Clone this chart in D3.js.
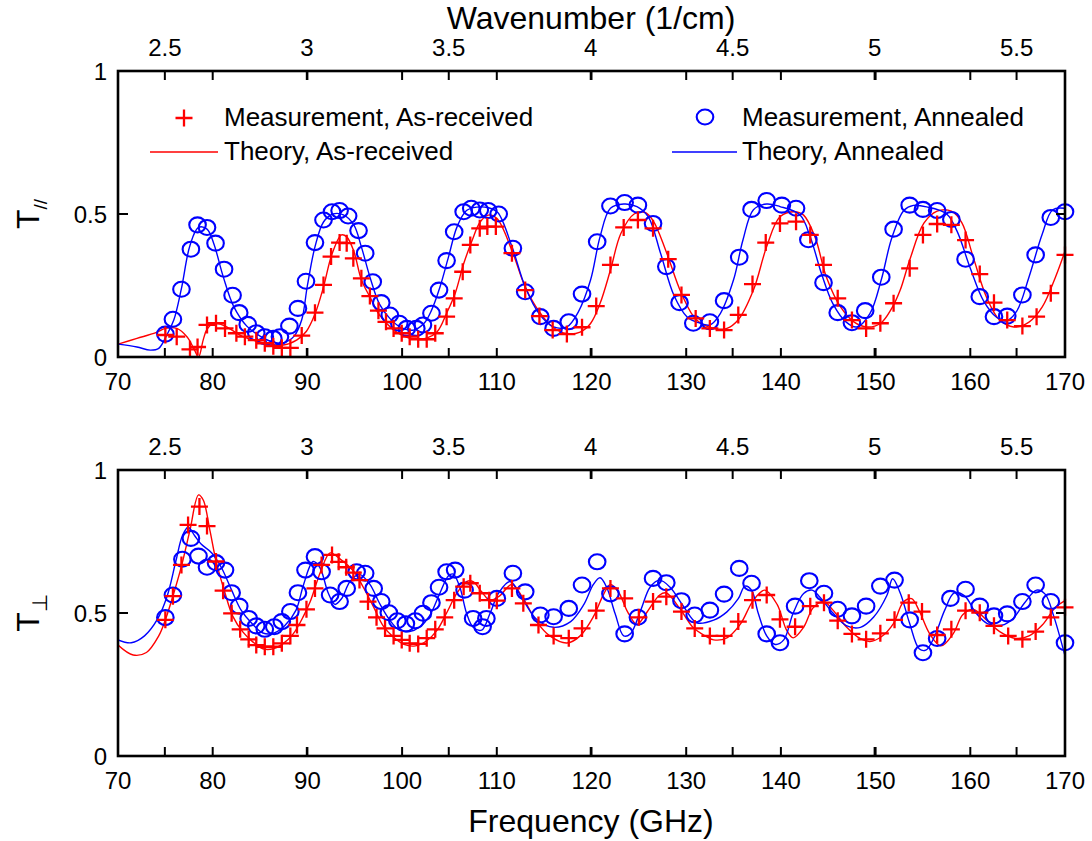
<!DOCTYPE html>
<html>
<head>
<meta charset="utf-8">
<script src="https://cdn.jsdelivr.net/npm/d3@7"></script>
<style>
  body { margin: 0; background: #fff; }
  svg text { font-family: "Liberation Sans", Arial, Helvetica, sans-serif; fill: #000; }
</style>
</head>
<body>
<svg id="chart" width="1092" height="841"></svg>
<script>
// ---- axis definitions ----
const freqDomain = [70, 170];
const freqTicks = [70, 80, 90, 100, 110, 120, 130, 140, 150, 160, 170];
const waveTicks = [2.5, 3, 3.5, 4, 4.5, 5, 5.5];
const yTicks = [0, 0.5, 1];
const GHZ_PER_INV_CM = 29.9792458;

// ---- parallel polarisation (T//) ----
const measParAsReceived = [
  [75.0,0.077],[76.2,0.071],[77.6,0.027],[78.4,0.035],[79.4,0.112],[80.35,0.118],[81.3,0.10],
  [82.5,0.083],[83.4,0.071],[84.6,0.059],[85.5,0.048],[86.4,0.038],[87.3,0.032],[88.2,0.032],
  [89.4,0.075],[90.8,0.155],[91.7,0.252],[92.5,0.351],[93.4,0.40],[94.15,0.398],[94.85,0.345],
  [95.7,0.275],[96.6,0.213],[97.5,0.162],[98.3,0.123],[99.1,0.10],[99.96,0.083],[100.8,0.071],
  [101.7,0.062],[102.6,0.062],[103.5,0.083],[104.7,0.141],[105.5,0.205],[106.4,0.298],
  [107.2,0.392],[108.2,0.45],[109.0,0.456],[109.9,0.456],[111.6,0.363],[113.0,0.234],
  [114.5,0.143],[115.9,0.094],[117.4,0.08],[119.0,0.104],[120.5,0.178],[122.0,0.322],
  [123.4,0.453],[124.9,0.479],[126.5,0.45],[128.1,0.342],[129.5,0.217],[131.0,0.135],
  [132.5,0.10],[134.0,0.094],[135.5,0.147],[137.0,0.255],[138.4,0.40],[139.9,0.467],
  [141.6,0.473],[143.1,0.427],[144.5,0.322],[146.0,0.205],[147.5,0.129],[149.0,0.10],
  [150.5,0.118],[151.9,0.188],[153.6,0.31],[155.0,0.427],[156.5,0.465],[158.0,0.462],
  [159.5,0.409],[161.0,0.29],[162.5,0.19],[163.9,0.129],[165.5,0.108],[167.0,0.141],
  [168.5,0.223],[170.0,0.357]
];
const measParAnnealed = [
  [75.0,0.08],[75.8,0.132],[76.7,0.237],[77.7,0.377],[78.4,0.462],[79.4,0.453],[80.3,0.398],
  [81.2,0.307],[82.1,0.216],[82.8,0.155],[83.7,0.114],[84.6,0.085],[85.5,0.071],[86.4,0.065],
  [87.1,0.071],[88.1,0.108],[89.0,0.170],[89.85,0.265],[90.8,0.40],[91.7,0.479],[92.6,0.508],
  [93.4,0.512],[94.3,0.493],[95.4,0.442],[96.1,0.363],[96.9,0.263],[97.8,0.19],[98.7,0.147],
  [99.7,0.118],[100.5,0.10],[101.5,0.10],[102.2,0.112],[103.1,0.153],[103.9,0.234],
  [104.7,0.337],[105.5,0.438],[106.5,0.508],[107.3,0.52],[108.2,0.514],[109.1,0.512],
  [110.2,0.50],[111.7,0.38],[113.0,0.228],[114.6,0.141],[116.0,0.10],[117.6,0.123],
  [119.0,0.22],[120.6,0.403],[122.0,0.528],[123.5,0.54],[124.9,0.531],[126.5,0.467],
  [127.9,0.316],[129.3,0.19],[130.75,0.118],[132.5,0.123],[134.0,0.197],[135.6,0.349],
  [136.9,0.516],[138.5,0.547],[140.1,0.531],[141.6,0.52],[142.9,0.41],[144.5,0.26],
  [146.0,0.155],[147.5,0.12],[148.9,0.162],[150.6,0.279],[151.9,0.447],[153.6,0.531],
  [155.0,0.516],[156.5,0.512],[158.0,0.481],[159.5,0.342],[161.0,0.211],[162.5,0.141],
  [163.9,0.143],[165.5,0.217],[166.9,0.357],[168.5,0.488],[170.0,0.508]
];
const theoryParAsReceived = [
  [70,0.045],[72,0.065],[74,0.085],[75,0.10],[76.2,0.10],[77.3,0.07],[78.0,0.03],[78.5,0.0],
  [79.0,0.06],[79.4,0.097],[80.1,0.118],[81.2,0.11],[83.2,0.071],[85.7,0.048],[87.5,0.042],
  [88.9,0.06],[89.9,0.09],[90.8,0.15],[91.7,0.245],[92.6,0.36],[93.6,0.427],[94.15,0.42],
  [94.9,0.37],[95.7,0.27],[96.6,0.21],[97.6,0.147],[98.9,0.10],[100.1,0.074],[101.3,0.063],
  [102.6,0.066],[103.7,0.088],[104.7,0.153],[105.6,0.222],[106.5,0.326],[107.4,0.408],
  [108.2,0.47],[109.1,0.496],[110.0,0.485],[111.6,0.372],[113.0,0.245],[114.5,0.158],
  [115.9,0.105],[117.4,0.082],[118.8,0.087],[119.9,0.117],[120.9,0.187],[122.0,0.304],
  [123.1,0.432],[124.5,0.50],[125.6,0.506],[126.5,0.477],[127.9,0.367],[129.5,0.222],
  [131.1,0.129],[132.9,0.10],[134.3,0.10],[135.5,0.13],[137.1,0.234],[138.5,0.386],
  [139.9,0.49],[141.4,0.508],[142.4,0.496],[143.6,0.42],[144.8,0.28],[146.3,0.175],
  [147.7,0.123],[149.1,0.105],[150.5,0.117],[151.7,0.17],[152.6,0.234],[153.6,0.339],
  [155.1,0.468],[156.5,0.51],[158.0,0.51],[159.1,0.47],[160.3,0.35],[161.7,0.21],
  [163.1,0.129],[164.6,0.105],[166.2,0.122],[167.6,0.175],[169.0,0.28],[170.0,0.37]
];
const theoryParAnnealed = [
  [70,0.045],[72,0.035],[73.4,0.024],[74.3,0.03],[75.2,0.08],[75.9,0.13],[76.7,0.24],
  [77.6,0.39],[78.5,0.453],[79.4,0.447],[80.1,0.398],[81.1,0.282],[82.2,0.178],[83.6,0.108],
  [85.0,0.073],[86.4,0.052],[87.5,0.05],[88.6,0.073],[89.4,0.13],[90.0,0.25],[90.8,0.385],
  [91.7,0.472],[92.7,0.50],[93.8,0.497],[94.9,0.462],[95.7,0.385],[96.6,0.28],[97.6,0.186],
  [98.7,0.135],[99.9,0.103],[101.2,0.094],[102.3,0.117],[103.1,0.163],[104.0,0.245],
  [104.9,0.35],[105.8,0.455],[106.8,0.512],[107.9,0.524],[109.1,0.522],[110.1,0.505],
  [111.6,0.386],[113.0,0.245],[114.5,0.15],[116.0,0.105],[117.4,0.105],[118.6,0.157],
  [119.9,0.269],[120.9,0.42],[122.0,0.52],[123.4,0.535],[124.8,0.526],[126.0,0.49],
  [127.3,0.362],[128.7,0.216],[130.1,0.14],[131.3,0.12],[132.5,0.112],[133.6,0.152],
  [135.0,0.27],[136.0,0.41],[137.1,0.515],[138.5,0.535],[139.9,0.526],[142.0,0.497],
  [143.1,0.42],[144.3,0.29],[145.5,0.186],[146.9,0.122],[148.0,0.105],[149.4,0.152],
  [150.6,0.27],[151.7,0.415],[153.0,0.513],[154.0,0.53],[155.4,0.525],[157.5,0.50],
  [158.6,0.44],[160.0,0.31],[161.4,0.196],[162.8,0.138],[163.8,0.126],[164.9,0.16],
  [166.2,0.28],[167.6,0.43],[168.7,0.515],[170.0,0.52]
];

// ---- perpendicular polarisation (T⊥) ----
const measPerpAsReceived = [
  [75.0,0.476],[75.8,0.559],[76.7,0.668],[77.4,0.808],[78.6,0.872],[79.4,0.804],[80.35,0.68],
  [81.1,0.578],[82.0,0.499],[82.9,0.443],[83.8,0.408],[84.6,0.388],[85.5,0.382],[86.4,0.382],
  [87.3,0.394],[88.2,0.42],[88.9,0.458],[89.9,0.513],[90.8,0.586],[91.5,0.668],[92.6,0.703],
  [93.3,0.679],[94.1,0.66],[94.85,0.641],[95.5,0.615],[96.4,0.54],[97.3,0.485],[98.2,0.446],
  [99.1,0.42],[99.96,0.406],[100.8,0.394],[101.7,0.392],[102.6,0.412],[103.5,0.443],
  [104.5,0.485],[105.5,0.545],[106.5,0.592],[107.2,0.604],[108.2,0.569],[109.2,0.545],
  [110.0,0.543],[111.6,0.586],[112.8,0.534],[114.4,0.458],[116.0,0.42],[117.6,0.412],
  [119.0,0.446],[120.5,0.508],[122.0,0.586],[123.5,0.551],[125.0,0.485],[126.5,0.54],
  [127.9,0.557],[129.5,0.505],[130.9,0.446],[132.5,0.42],[134.0,0.42],[135.5,0.47],
  [137.0,0.545],[138.5,0.563],[139.9,0.478],[141.5,0.452],[143.1,0.524],[144.55,0.536],
  [146.0,0.473],[147.5,0.427],[149.0,0.408],[150.5,0.429],[152.0,0.476],[153.5,0.536],
  [154.9,0.505],[156.5,0.423],[158.0,0.443],[159.5,0.508],[161.0,0.501],[162.5,0.455],
  [164.0,0.42],[165.5,0.408],[166.9,0.435],[168.5,0.485],[170.0,0.52]
];
const measPerpAnnealed = [
  [75.0,0.484],[75.8,0.563],[76.8,0.688],[77.7,0.761],[78.5,0.699],[79.4,0.66],[80.35,0.676],
  [81.3,0.65],[82.0,0.571],[82.8,0.524],[83.8,0.481],[84.6,0.455],[85.5,0.443],[86.5,0.452],
  [87.3,0.47],[88.2,0.505],[89.0,0.571],[89.8,0.65],[90.8,0.697],[91.5,0.644],[92.4,0.563],
  [93.4,0.54],[94.15,0.586],[95.2,0.644],[96.1,0.639],[97.0,0.586],[97.8,0.54],[98.6,0.501],
  [99.5,0.473],[100.4,0.462],[101.4,0.473],[102.2,0.499],[103.1,0.536],[103.9,0.59],
  [104.7,0.644],[105.6,0.65],[106.6,0.58],[107.5,0.481],[108.5,0.452],[108.9,0.481],
  [110.0,0.551],[111.7,0.639],[113.0,0.574],[114.6,0.493],[116.0,0.487],[117.6,0.516],
  [119.0,0.598],[120.6,0.679],[122.0,0.567],[123.5,0.427],[124.9,0.485],[126.5,0.621],
  [127.9,0.606],[129.5,0.543],[130.9,0.493],[132.5,0.51],[134.0,0.566],[135.6,0.656],
  [136.9,0.604],[138.5,0.427],[139.9,0.396],[141.5,0.524],[143.0,0.613],[144.55,0.569],
  [146.0,0.513],[147.5,0.49],[149.0,0.524],[150.5,0.594],[152.0,0.615],[153.6,0.476],
  [155.0,0.361],[156.5,0.411],[157.9,0.551],[159.5,0.583],[161.0,0.524],[162.5,0.49],
  [163.9,0.497],[165.5,0.54],[166.9,0.598],[168.5,0.54],[170.0,0.396]
];
const theoryPerpAsReceived = [
  [70,0.388],[71.6,0.353],[73.0,0.362],[74.3,0.42],[75.0,0.476],[75.8,0.559],[76.7,0.664],
  [77.6,0.79],[78.5,0.913],[79.0,0.895],[79.7,0.79],[80.4,0.675],[81.3,0.57],[82.1,0.49],
  [83.2,0.433],[84.2,0.40],[85.3,0.375],[86.4,0.375],[87.4,0.392],[88.5,0.427],[89.6,0.49],
  [90.3,0.54],[91.4,0.645],[92.4,0.71],[93.4,0.69],[94.9,0.645],[95.9,0.59],[97.0,0.52],
  [98.0,0.455],[99.1,0.415],[100.2,0.39],[101.4,0.385],[102.6,0.403],[103.7,0.44],
  [104.7,0.5],[105.8,0.57],[106.8,0.61],[107.5,0.61],[108.4,0.574],[109.3,0.544],
  [110.3,0.56],[111.6,0.60],[112.8,0.55],[114.2,0.47],[115.6,0.42],[117.4,0.395],
  [118.8,0.42],[120.2,0.487],[121.3,0.567],[122.0,0.60],[122.9,0.57],[123.8,0.505],
  [124.8,0.46],[125.8,0.50],[127.2,0.563],[127.9,0.57],[129.3,0.517],[130.7,0.45],
  [132.0,0.42],[132.9,0.406],[134.3,0.413],[135.7,0.46],[137.1,0.545],[138.3,0.58],
  [139.6,0.53],[140.6,0.44],[141.3,0.413],[142.4,0.45],[143.4,0.518],[144.5,0.54],
  [145.5,0.51],[146.9,0.452],[148.4,0.41],[149.4,0.40],[150.6,0.417],[151.9,0.464],
  [152.9,0.537],[153.8,0.55],[154.6,0.508],[155.7,0.428],[156.9,0.385],[158.2,0.428],
  [159.2,0.494],[160.3,0.512],[161.7,0.476],[163.1,0.435],[164.8,0.411],[166.2,0.42],
  [167.6,0.458],[169.0,0.52],[170.0,0.543]
];
const theoryPerpAnnealed = [
  [70,0.406],[71.4,0.396],[72.8,0.42],[74.2,0.48],[75.2,0.56],[76.1,0.68],[76.8,0.77],
  [77.4,0.80],[78.1,0.77],[78.8,0.74],[79.9,0.71],[80.9,0.66],[82.0,0.58],[83.0,0.51],
  [84.1,0.465],[85.3,0.43],[86.5,0.43],[87.6,0.455],[88.8,0.51],[89.6,0.60],[90.6,0.68],
  [91.3,0.66],[92.2,0.57],[92.9,0.53],[93.6,0.55],[94.5,0.61],[95.5,0.635],[96.6,0.60],
  [97.6,0.535],[98.7,0.475],[99.7,0.44],[100.8,0.435],[101.9,0.452],[102.9,0.49],
  [104.0,0.57],[104.9,0.63],[105.4,0.636],[106.1,0.59],[106.8,0.50],[107.5,0.45],
  [108.4,0.44],[109.3,0.50],[110.2,0.57],[111.4,0.61],[112.8,0.544],[114.2,0.478],
  [116.0,0.45],[117.8,0.47],[119.2,0.53],[120.2,0.60],[120.9,0.623],[121.6,0.59],
  [122.5,0.497],[123.4,0.42],[124.1,0.427],[125.2,0.51],[126.2,0.591],[127.2,0.615],
  [128.3,0.59],[129.7,0.524],[131.1,0.466],[132.9,0.475],[134.3,0.504],[135.5,0.55],
  [136.2,0.594],[136.9,0.58],[137.6,0.50],[138.5,0.42],[139.4,0.39],[140.3,0.406],
  [141.3,0.50],[142.4,0.568],[143.3,0.58],[144.1,0.556],[145.5,0.50],[146.9,0.456],
  [148.4,0.45],[149.8,0.486],[151.2,0.562],[151.8,0.62],[152.6,0.57],[153.6,0.463],
  [154.6,0.375],[155.3,0.37],[156.2,0.416],[157.3,0.51],[158.3,0.57],[159.4,0.56],
  [160.6,0.50],[161.8,0.463],[163.3,0.457],[164.5,0.48],[165.7,0.534],[167.0,0.58],
  [167.9,0.566],[168.8,0.49],[170.0,0.35]
];

const legendLabels = ["Measurement, As-received", "Theory, As-received",
                      "Measurement, Annealed", "Theory, Annealed"];

// ---- drawing ----
const RED = "#ff0000", BLUE = "#0000ff";
const TICK_FONT = 24, LEGEND_FONT = 26, TITLE_FONT = 32;
const svg = d3.select("#chart");
const left = 118, right = 1065;
const x = d3.scaleLinear().domain(freqDomain).range([left, right]);
const defs = svg.append("defs");

function crossPath(s) { return `M${-s},0H${s}M0,${-s}V${s}`; }

function drawPanel(id, top, bottom, series, yLabelSub, subSize) {
  const y = d3.scaleLinear().domain([0, 1]).range([bottom, top]);
  const g = svg.append("g");

  defs.append("clipPath").attr("id", id)
    .append("rect").attr("x", left).attr("y", top)
    .attr("width", right - left).attr("height", bottom - top);

  const line = d3.line()
    .x(d => x(d[0])).y(d => y(d[1]))
    .curve(d3.curveCatmullRom.alpha(0.5));

  const plot = g.append("g").attr("clip-path", `url(#${id})`);
  plot.append("path").datum(series.theoryRed)
    .attr("d", line).attr("fill", "none").attr("stroke", RED).attr("stroke-width", 1.4);
  plot.append("path").datum(series.theoryBlue)
    .attr("d", line).attr("fill", "none").attr("stroke", BLUE).attr("stroke-width", 1.4);

  g.append("g").selectAll("ellipse").data(series.measBlue).join("ellipse")
    .attr("cx", d => x(d[0])).attr("cy", d => y(d[1]))
    .attr("rx", 8.3).attr("ry", 7.5)
    .attr("fill", "none").attr("stroke", BLUE).attr("stroke-width", 2.1);
  g.append("g").selectAll("path").data(series.measRed).join("path")
    .attr("transform", d => `translate(${x(d[0])},${y(d[1])})`)
    .attr("d", crossPath(8.5))
    .attr("fill", "none").attr("stroke", RED).attr("stroke-width", 2.3);

  // frame
  g.append("rect").attr("x", left).attr("y", top)
    .attr("width", right - left).attr("height", bottom - top)
    .attr("fill", "none").attr("stroke", "#000").attr("stroke-width", 2.6);

  // inward ticks: frequency and wavenumber ticks mirrored on both horizontal edges
  const tickFreqs = freqTicks.slice(1, -1).concat(waveTicks.map(k => k * GHZ_PER_INV_CM));
  const tk = g.append("g").attr("stroke", "#000").attr("stroke-width", 2);
  tickFreqs.forEach(f => {
    tk.append("line").attr("x1", x(f)).attr("x2", x(f)).attr("y1", bottom).attr("y2", bottom - 9);
    tk.append("line").attr("x1", x(f)).attr("x2", x(f)).attr("y1", top).attr("y2", top + 9);
  });
  yTicks.slice(1, -1).forEach(v => {
    tk.append("line").attr("x1", left).attr("x2", left + 10).attr("y1", y(v)).attr("y2", y(v));
    tk.append("line").attr("x1", right).attr("x2", right - 9).attr("y1", y(v)).attr("y2", y(v));
  });

  // bottom frequency labels
  g.append("g").selectAll("text").data(freqTicks).join("text")
    .attr("x", d => x(d)).attr("y", bottom + 33)
    .attr("text-anchor", "middle").attr("font-size", TICK_FONT).text(d => d);
  // top wavenumber labels
  g.append("g").selectAll("text").data(waveTicks).join("text")
    .attr("x", d => x(d * GHZ_PER_INV_CM)).attr("y", top - 15)
    .attr("text-anchor", "middle").attr("font-size", TICK_FONT).text(d => d);
  // y labels
  g.append("g").selectAll("text").data(yTicks).join("text")
    .attr("x", 107).attr("y", d => y(d) + 9)
    .attr("text-anchor", "end").attr("font-size", TICK_FONT).text(d => d);

  // y-axis title
  const yt = g.append("text")
    .attr("transform", `translate(39,${(top + bottom) / 2}) rotate(-90)`)
    .attr("text-anchor", "middle").attr("font-size", TITLE_FONT);
  yt.append("tspan").text("T");
  yt.append("tspan").attr("font-size", subSize).attr("dy", 8).text(yLabelSub);
  return { g, y };
}

drawPanel("clipTop", 71, 357, {
  measRed: measParAsReceived, measBlue: measParAnnealed,
  theoryRed: theoryParAsReceived, theoryBlue: theoryParAnnealed
}, "//", 19);

drawPanel("clipBottom", 470, 756, {
  measRed: measPerpAsReceived, measBlue: measPerpAnnealed,
  theoryRed: theoryPerpAsReceived, theoryBlue: theoryPerpAnnealed
}, "\u22A5", 21);

// axis titles
svg.append("text").attr("x", 591).attr("y", 29).attr("text-anchor", "middle")
  .attr("font-size", TITLE_FONT).text("Wavenumber (1/cm)");
svg.append("text").attr("x", 591).attr("y", 832).attr("text-anchor", "middle")
  .attr("font-size", TITLE_FONT).text("Frequency (GHz)");

// legend
const lg = svg.append("g");
lg.append("path").attr("transform", "translate(184,118)").attr("d", crossPath(8.5))
  .attr("stroke", RED).attr("stroke-width", 2.3);
lg.append("line").attr("x1", 150).attr("x2", 218).attr("y1", 152).attr("y2", 152)
  .attr("stroke", RED).attr("stroke-width", 1.4);
lg.append("ellipse").attr("cx", 705).attr("cy", 117).attr("rx", 8.3).attr("ry", 7.5)
  .attr("fill", "none").attr("stroke", BLUE).attr("stroke-width", 2.1);
lg.append("line").attr("x1", 672).attr("x2", 737).attr("y1", 152).attr("y2", 152)
  .attr("stroke", BLUE).attr("stroke-width", 1.4);
const legendPos = [[224,118],[224,152],[742,118],[742,152]];
lg.selectAll("text").data(legendLabels).join("text")
  .attr("x", (d, i) => legendPos[i][0]).attr("y", (d, i) => legendPos[i][1] + 8)
  .attr("font-size", LEGEND_FONT).text(d => d);
</script>
</body>
</html>
